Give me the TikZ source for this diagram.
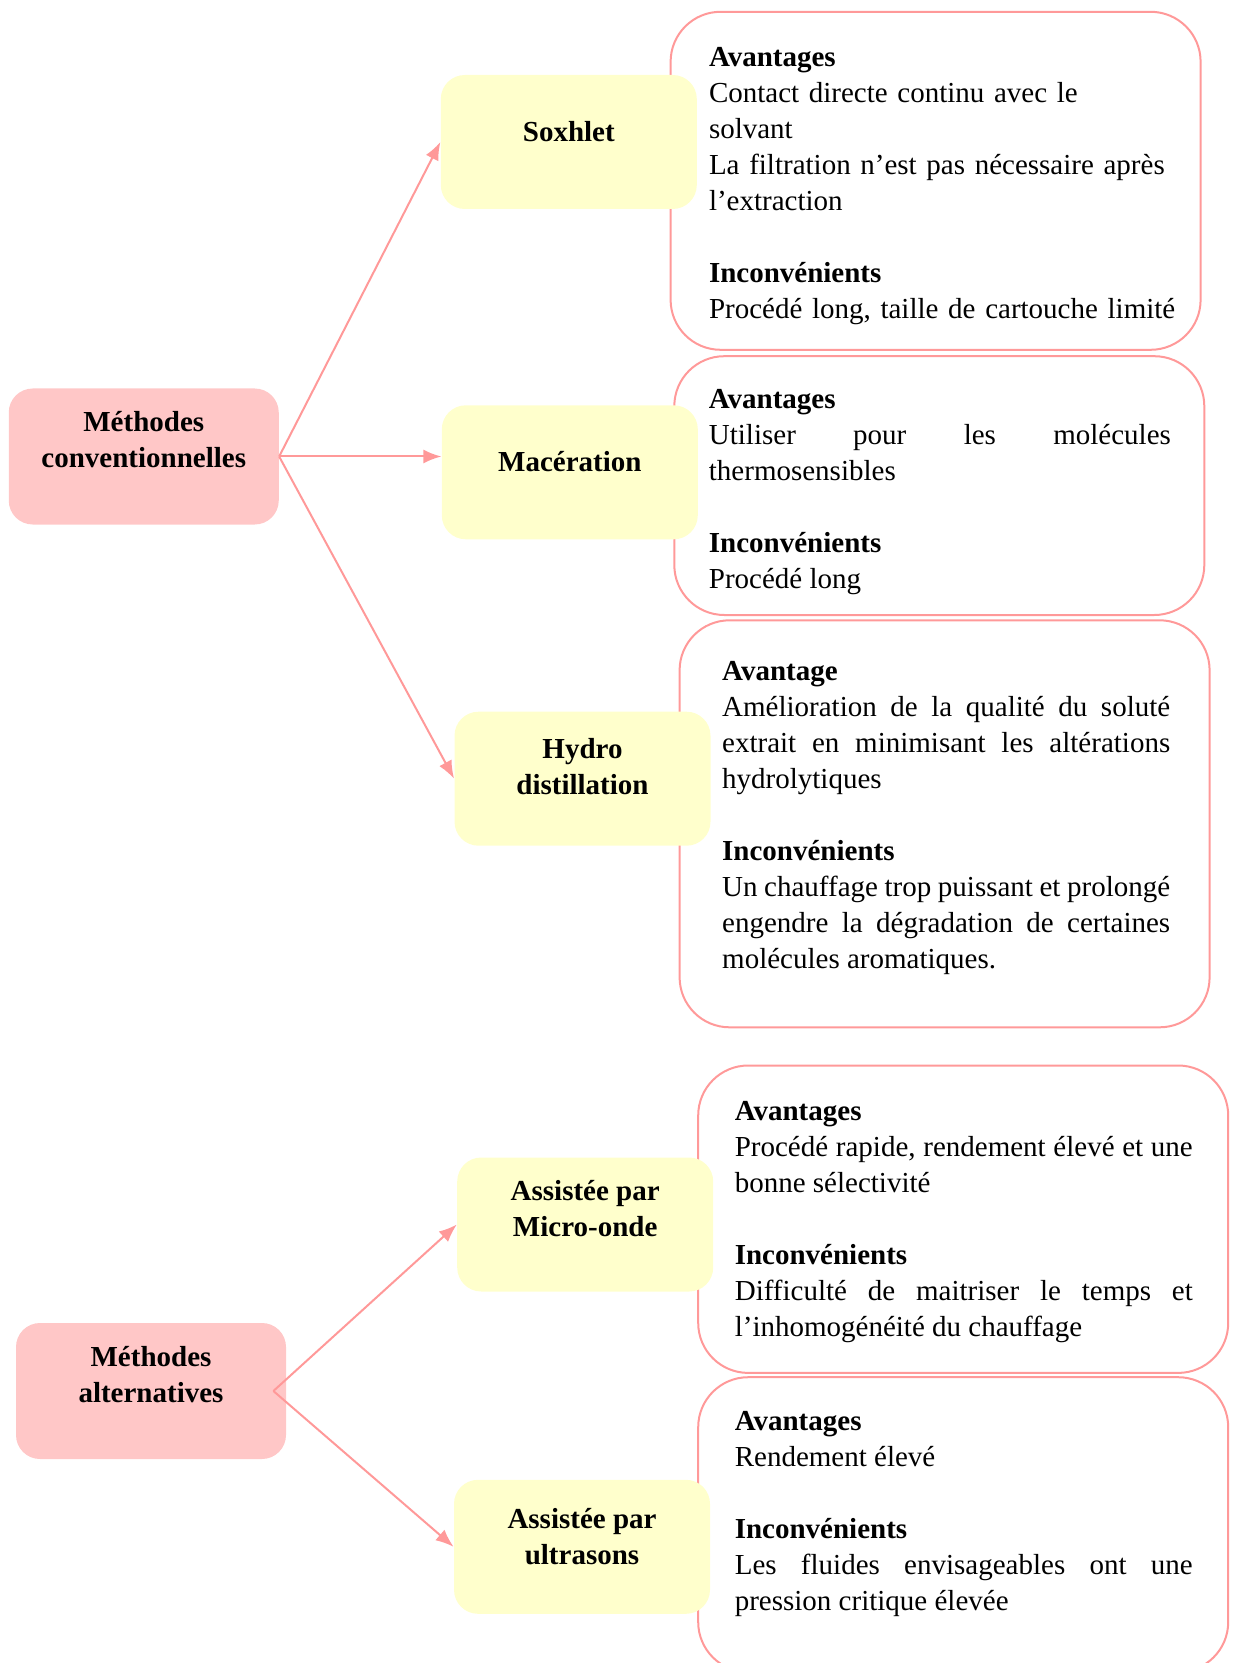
\documentclass[tikz,border=0pt]{standalone}
\usepackage{fontspec}
\setmainfont{Liberation Serif}
\usetikzlibrary{arrows.meta,positioning}
\definecolor{rosefill}{HTML}{FFC7C7}
\definecolor{jaune}{HTML}{FFFFCC}
\definecolor{roseline}{HTML}{FF9999}
\setlength{\parindent}{0pt}
\newcommand{\lift}[2]{\raisebox{#1}[\height][\depth]{\begin{tabular}{@{}c@{}}#2\end{tabular}}}

\begin{document}
\begin{tikzpicture}[
  x=0.5pt, y=-0.5pt,
  famille/.style={fill=rosefill, rounded corners=12pt, minimum width=135pt,
    minimum height=68pt, inner sep=0pt, font=\fontsize{14.5}{18}\selectfont\bfseries},
  methode/.style={fill=jaune, rounded corners=12pt, minimum width=128pt,
    minimum height=67pt, inner sep=0pt, font=\fontsize{14.5}{18}\selectfont\bfseries},
  bilan/.style={draw=roseline, line width=1pt, rounded corners=25pt,
    minimum width=265pt, inner sep=0pt},
  texte/.style={inner sep=0pt, align=justify, font=\fontsize{14.5}{18}\selectfont},
  fleche/.style={draw=roseline, line width=1pt, -{Latex[length=9pt,width=7pt]}}]
\useasboundingbox (0,0) rectangle (1232,1663);

% avantages / inconvenients
\node[bilan, minimum height=169pt] (soxinfo) at (935.6,180.8) {};
\node[texte, align=left, text width=245pt, below right=18.2pt and 19.5pt of soxinfo.north west] (soxtext)
  {\textbf{Avantages}\\Contact directe continu avec le\\solvant\\La filtration n’est pas nécessaire après\\l’extraction\\[18pt]
   \textbf{Inconvénients}\\Procédé long, taille de cartouche limité};
\node[bilan, minimum height=129.4pt] (macinfo) at (939.3,485.6) {};
\node[texte, text width=231pt, below right=16.8pt and 17.6pt of macinfo.north west] (mactext)
  {\textbf{Avantages}\\Utiliser pour les molécules\linebreak thermosensibles\\[18pt]
   \textbf{Inconvénients}\\Procédé long};
\node[bilan, minimum height=203.5pt] (hydinfo) at (944.6,823.8) {};
\node[texte, text width=224pt, below right=20.6pt and 21.6pt of hydinfo.north west] (hydtext)
  {\textbf{Avantage}\\Amélioration de la qualité du soluté\linebreak extrait en minimisant les altérations\linebreak hydrolytiques\\[18pt]
   \textbf{Inconvénients}\\Un chauffage trop puissant et prolongé\linebreak engendre la dégradation de certaines\linebreak molécules aromatiques.};
\node[bilan, minimum height=153.7pt] (micinfo) at (963.2,1219.2) {};
\node[texte, text width=229pt, below right=18pt and 18.6pt of micinfo.north west] (mictext)
  {\textbf{Avantages}\\Procédé rapide, rendement élevé et une\linebreak bonne sélectivité\\[18pt]
   \textbf{Inconvénients}\\Difficulté de maitriser le temps et\linebreak l’inhomogénéité du chauffage};
\node[bilan, minimum height=147.4pt] (ultinfo) at (963.2,1524.6) {};
\node[texte, text width=229pt, below right=17.4pt and 18.6pt of ultinfo.north west] (ulttext)
  {\textbf{Avantages}\\Rendement élevé\\[18pt]
   \textbf{Inconvénients}\\Les fluides envisageables ont une\linebreak pression critique élevée};

% methodes
\node[famille] (conv) at (143.75,456.5) {\lift{7pt}{Méthodes\\conventionnelles}};
\node[famille] (alt) at (151,1391) {\lift{7pt}{Méthodes\\alternatives}};
\node[methode] (sox) at (568.8,142) {\lift{4pt}{Soxhlet}};
\node[methode] (mac) at (569.8,472.3) {\lift{4.2pt}{Macération}};
\node[methode] (hyd) at (582.5,778.7) {\lift{4.5pt}{Hydro\\distillation}};
\node[methode] (mic) at (585.2,1224.5) {\lift{6.5pt}{Assistée par\\Micro-onde}};
\node[methode] (ult) at (582,1546.8) {\lift{3.7pt}{Assistée par\\ultrasons}};

\draw[fleche] (conv.east) -- (sox.west);
\draw[fleche] (conv.east) -- (conv.east -| mac.west);
\draw[fleche] (conv.east) -- (hyd.west);
\draw[fleche] ([xshift=-6.5pt]alt.east) -- (mic.west);
\draw[fleche] ([xshift=-6.5pt]alt.east) -- (ult.west);
\end{tikzpicture}
\end{document}
